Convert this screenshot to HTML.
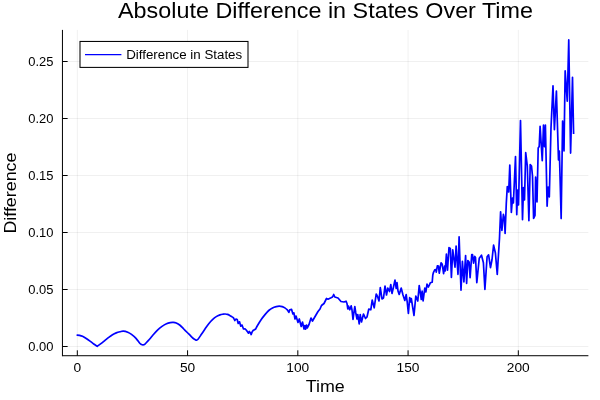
<!DOCTYPE html>
<html><head><meta charset="utf-8"><title>Absolute Difference in States Over Time</title>
<style>
html,body{margin:0;padding:0;background:#fff;width:600px;height:400px;overflow:hidden}
.t{font-family:"Liberation Sans",sans-serif;fill:#000}
svg{will-change:transform}
</style></head><body>
<svg width="600" height="400" viewBox="0 0 600 400" style="display:block;position:absolute;left:0;top:0">
<rect x="0" y="0" width="600" height="400" fill="#ffffff"/>
<line x1="77.32" y1="29.9" x2="77.32" y2="355.72" stroke="#000" stroke-opacity="0.1" stroke-width="0.6"/>
<line x1="187.57" y1="29.9" x2="187.57" y2="355.72" stroke="#000" stroke-opacity="0.1" stroke-width="0.6"/>
<line x1="297.82" y1="29.9" x2="297.82" y2="355.72" stroke="#000" stroke-opacity="0.1" stroke-width="0.6"/>
<line x1="408.07" y1="29.9" x2="408.07" y2="355.72" stroke="#000" stroke-opacity="0.1" stroke-width="0.6"/>
<line x1="518.32" y1="29.9" x2="518.32" y2="355.72" stroke="#000" stroke-opacity="0.1" stroke-width="0.6"/>
<line x1="62.45" y1="346.50" x2="588.4" y2="346.50" stroke="#000" stroke-opacity="0.1" stroke-width="0.6"/>
<line x1="62.45" y1="289.50" x2="588.4" y2="289.50" stroke="#000" stroke-opacity="0.1" stroke-width="0.6"/>
<line x1="62.45" y1="232.50" x2="588.4" y2="232.50" stroke="#000" stroke-opacity="0.1" stroke-width="0.6"/>
<line x1="62.45" y1="175.50" x2="588.4" y2="175.50" stroke="#000" stroke-opacity="0.1" stroke-width="0.6"/>
<line x1="62.45" y1="118.50" x2="588.4" y2="118.50" stroke="#000" stroke-opacity="0.1" stroke-width="0.6"/>
<line x1="62.45" y1="61.50" x2="588.4" y2="61.50" stroke="#000" stroke-opacity="0.1" stroke-width="0.6"/>
<line x1="62.45" y1="355.72" x2="588.4" y2="355.72" stroke="#000" stroke-width="1.0"/>
<line x1="62.45" y1="29.9" x2="62.45" y2="356.22" stroke="#000" stroke-width="1.0"/>
<line x1="77.32" y1="355.72" x2="77.32" y2="350.32000000000005" stroke="#000" stroke-width="1.0"/>
<text x="73.49" y="371.6" font-size="12.7" textLength="7.65" lengthAdjust="spacingAndGlyphs" class="t">0</text>
<line x1="187.57" y1="355.72" x2="187.57" y2="350.32000000000005" stroke="#000" stroke-width="1.0"/>
<text x="179.92" y="371.6" font-size="12.7" textLength="15.30" lengthAdjust="spacingAndGlyphs" class="t">50</text>
<line x1="297.82" y1="355.72" x2="297.82" y2="350.32000000000005" stroke="#000" stroke-width="1.0"/>
<text x="286.34" y="371.6" font-size="12.7" textLength="22.95" lengthAdjust="spacingAndGlyphs" class="t">100</text>
<line x1="408.07" y1="355.72" x2="408.07" y2="350.32000000000005" stroke="#000" stroke-width="1.0"/>
<text x="396.59" y="371.6" font-size="12.7" textLength="22.95" lengthAdjust="spacingAndGlyphs" class="t">150</text>
<line x1="518.32" y1="355.72" x2="518.32" y2="350.32000000000005" stroke="#000" stroke-width="1.0"/>
<text x="506.84" y="371.6" font-size="12.7" textLength="22.95" lengthAdjust="spacingAndGlyphs" class="t">200</text>
<line x1="62.45" y1="346.50" x2="67.65" y2="346.50" stroke="#000" stroke-width="1.0"/>
<text x="28.3" y="351.10" font-size="12.3" textLength="25.2" lengthAdjust="spacingAndGlyphs" class="t">0.00</text>
<line x1="62.45" y1="289.50" x2="67.65" y2="289.50" stroke="#000" stroke-width="1.0"/>
<text x="28.3" y="294.10" font-size="12.3" textLength="25.2" lengthAdjust="spacingAndGlyphs" class="t">0.05</text>
<line x1="62.45" y1="232.50" x2="67.65" y2="232.50" stroke="#000" stroke-width="1.0"/>
<text x="28.3" y="237.10" font-size="12.3" textLength="25.2" lengthAdjust="spacingAndGlyphs" class="t">0.10</text>
<line x1="62.45" y1="175.50" x2="67.65" y2="175.50" stroke="#000" stroke-width="1.0"/>
<text x="28.3" y="180.10" font-size="12.3" textLength="25.2" lengthAdjust="spacingAndGlyphs" class="t">0.15</text>
<line x1="62.45" y1="118.50" x2="67.65" y2="118.50" stroke="#000" stroke-width="1.0"/>
<text x="28.3" y="123.10" font-size="12.3" textLength="25.2" lengthAdjust="spacingAndGlyphs" class="t">0.20</text>
<line x1="62.45" y1="61.50" x2="67.65" y2="61.50" stroke="#000" stroke-width="1.0"/>
<text x="28.3" y="66.10" font-size="12.3" textLength="25.2" lengthAdjust="spacingAndGlyphs" class="t">0.25</text>
<path d="M76.60,335.10 C77.08,335.14 78.52,335.16 79.50,335.35 C80.48,335.54 81.38,335.73 82.50,336.25 C83.62,336.77 85.00,337.69 86.25,338.50 C87.50,339.31 88.75,340.18 90.00,341.10 C91.25,342.02 92.53,343.13 93.75,344.00 C94.97,344.87 96.71,345.92 97.30,346.30 C97.96,345.82 99.97,344.38 101.25,343.40 C102.53,342.42 103.75,341.40 105.00,340.40 C106.25,339.40 107.50,338.34 108.75,337.40 C110.00,336.46 111.25,335.50 112.50,334.75 C113.75,334.00 115.00,333.40 116.25,332.90 C117.50,332.40 118.83,332.05 120.00,331.75 C121.17,331.45 121.96,331.03 123.25,331.10 C124.54,331.18 126.38,331.65 127.75,332.20 C129.12,332.75 130.12,333.38 131.50,334.40 C132.88,335.42 134.62,336.82 136.00,338.30 C137.38,339.78 138.83,342.27 139.75,343.30 C140.67,344.33 140.96,344.25 141.50,344.50 C142.04,344.75 142.50,344.82 143.00,344.80 C143.50,344.78 144.00,344.70 144.50,344.40 C145.00,344.10 145.17,343.86 146.00,343.00 C146.83,342.14 148.33,340.58 149.50,339.25 C150.67,337.92 151.67,336.52 153.00,335.00 C154.33,333.48 156.00,331.53 157.50,330.10 C159.00,328.67 160.50,327.46 162.00,326.40 C163.50,325.34 165.12,324.38 166.50,323.75 C167.88,323.12 169.12,322.83 170.25,322.60 C171.38,322.38 172.25,322.33 173.25,322.40 C174.25,322.47 175.12,322.52 176.25,323.00 C177.38,323.48 178.75,324.25 180.00,325.25 C181.25,326.25 182.50,327.75 183.75,329.00 C185.00,330.25 186.46,331.72 187.50,332.75 C188.54,333.78 189.12,334.32 190.00,335.20 C190.88,336.07 191.92,337.28 192.75,338.00 C193.58,338.72 194.38,339.15 195.00,339.50 C195.62,339.85 196.00,340.15 196.50,340.10 C197.00,340.05 197.21,340.12 198.00,339.20 C198.79,338.28 200.08,336.30 201.25,334.60 C202.42,332.90 203.75,330.81 205.00,329.00 C206.25,327.19 207.50,325.32 208.75,323.75 C210.00,322.18 211.25,320.79 212.50,319.60 C213.75,318.41 215.00,317.38 216.25,316.60 C217.50,315.82 218.88,315.30 220.00,314.90 C221.12,314.50 222.12,314.35 223.00,314.20 C223.88,314.05 224.50,313.97 225.25,314.00 C226.00,314.03 226.75,314.15 227.50,314.40 C228.25,314.65 229.00,315.09 229.75,315.50 C230.50,315.91 231.38,316.47 232.00,316.85 C232.62,317.23 233.25,317.64 233.50,317.80 L234.80,320.50 L236.00,319.00 L237.20,319.50 L238.20,323.50 L239.50,321.80 L240.80,326.20 L242.00,325.00 L243.50,329.00 L245.00,328.80 L246.20,330.00 L247.50,331.80 L248.50,333.20 L249.30,331.50 L250.20,332.50 L251.20,334.50 L252.20,331.80 L253.50,330.00 L254.50,329.80 L255.60,329.00 C255.92,328.42 256.56,327.08 257.50,325.50 C258.44,323.92 260.00,321.32 261.25,319.50 C262.50,317.68 263.75,316.10 265.00,314.60 C266.25,313.10 267.50,311.62 268.75,310.50 C270.00,309.38 271.25,308.55 272.50,307.90 C273.75,307.25 275.12,306.89 276.25,306.60 C277.38,306.31 278.25,306.15 279.25,306.15 C280.25,306.15 281.25,306.28 282.25,306.60 C283.25,306.93 284.38,307.52 285.25,308.10 C286.12,308.68 287.12,309.77 287.50,310.10 L288.85,312.40 L289.75,309.75 L291.60,309.40 L292.90,313.90 L293.90,312.90 L295.00,319.00 L296.00,316.00 L298.00,322.50 L299.30,319.00 L301.20,326.50 L302.50,322.00 L304.00,329.00 L304.80,325.50 L305.50,329.20 L306.50,325.00 L307.20,328.00 L309.00,324.50 L311.00,318.00 L312.50,321.00 L314.50,317.50 L318.00,311.50 L320.00,309.00 L321.50,305.50 L324.00,303.50 L326.50,298.50 L328.00,299.20 L331.00,297.80 L332.50,297.00 L333.70,294.50 L334.80,297.00 L338.00,298.00 L341.00,301.50 L344.00,302.00 L346.00,301.20 L347.00,303.50 L347.80,309.00 L348.50,306.00 L349.80,309.80 L351.20,305.80 L352.00,310.00 L353.00,319.50 L354.00,312.00 L354.80,306.50 L355.80,313.00 L357.00,319.00 L357.80,314.50 L359.20,324.00 L360.20,314.50 L361.50,322.00 L363.50,314.00 L365.50,318.50 L367.00,317.00 L368.80,309.00 L370.80,309.80 L372.20,300.00 L374.20,307.80 L376.20,294.00 L377.50,296.50 L379.00,301.00 L380.30,287.50 L382.00,299.00 L383.50,298.00 L385.00,286.00 L386.50,295.00 L387.80,288.00 L389.50,291.50 L390.80,284.50 L392.00,293.50 L393.50,287.00 L395.00,280.00 L396.20,288.50 L397.00,282.50 L398.00,291.00 L399.20,294.50 L401.20,288.00 L403.00,295.00 L404.80,300.50 L406.20,294.50 L407.20,302.00 L408.40,313.50 L409.70,297.50 L410.50,302.00 L411.30,298.50 L412.50,306.00 L414.00,315.50 L415.80,296.00 L417.80,301.00 L419.20,285.50 L421.30,299.50 L422.10,291.00 L423.10,301.00 L424.80,288.00 L425.90,292.00 L427.00,284.00 L428.30,287.00 L429.30,285.20 L430.30,282.80 L432.20,282.20 L432.80,275.00 L433.50,272.30 L434.75,269.90 L435.90,269.50 L436.25,272.10 L437.40,265.75 L438.50,266.10 L439.25,273.25 L441.10,262.75 L442.25,264.25 L443.60,273.60 L444.65,266.10 L445.25,271.00 L446.40,254.10 L447.50,270.25 L449.00,247.60 L450.30,248.50 L451.40,277.40 L452.75,249.90 L455.00,267.25 L456.10,246.10 L458.00,274.40 L459.10,236.75 L461.00,290.10 L462.40,261.25 L463.90,281.90 L465.60,255.60 L466.60,283.40 L467.85,260.50 L469.10,262.00 L470.10,277.75 L471.75,254.50 L472.50,254.50 L473.60,263.10 L474.75,256.40 L475.50,257.50 L476.80,282.60 L479.25,258.25 L481.50,255.25 L483.40,262.75 L484.90,289.40 L487.10,256.75 L488.60,254.90 L490.50,267.60 L492.00,259.75 L493.60,245.10 L495.40,253.00 L497.25,274.40 L499.50,238.00 L500.60,211.75 L501.90,230.50 L503.40,214.40 L504.40,218.50 L505.10,233.50 L506.30,203.00 L507.30,186.50 L508.70,192.00 L509.80,165.00 L511.35,212.50 L512.50,198.00 L513.40,203.00 L515.50,156.50 L516.75,214.75 L517.60,190.00 L518.50,205.00 L520.50,120.50 L522.50,219.60 L523.50,187.50 L524.50,200.00 L525.70,152.50 L527.30,166.00 L528.90,220.75 L530.20,164.50 L531.50,166.00 L532.50,176.00 L533.60,218.50 L535.00,215.30 L535.60,177.00 L537.00,202.00 L538.20,148.00 L539.20,146.50 L540.10,126.25 L542.25,160.60 L543.50,125.10 L544.50,146.75 L545.40,125.10 L547.10,206.25 L548.10,187.00 L549.30,197.00 L551.00,127.75 L553.00,85.90 L554.40,129.60 L556.40,91.10 L558.50,160.00 L559.35,151.00 L561.15,218.60 L562.60,121.00 L564.00,151.00 L565.15,70.90 L567.25,101.25 L568.75,39.90 L570.60,153.10 L572.50,77.25 L573.60,134.00" fill="none" stroke="#0000ff" stroke-width="1.7" stroke-linejoin="round" stroke-linecap="butt"/>
<rect x="80.0" y="41.45" width="168.0" height="25.95" fill="#fff" stroke="#000" stroke-width="1.05"/>
<line x1="85" y1="54.6" x2="121.4" y2="54.6" stroke="#0000ff" stroke-width="1.45"/>
<text x="126.2" y="58.8" font-size="12.3" textLength="116" lengthAdjust="spacingAndGlyphs" class="t">Difference in States</text>
<text x="118" y="18.1" font-size="21.4" textLength="415" lengthAdjust="spacingAndGlyphs" class="t">Absolute Difference in States Over Time</text>
<text x="305.8" y="391.6" font-size="16" textLength="39" lengthAdjust="spacingAndGlyphs" class="t">Time</text>
<text transform="translate(16.2,233.6) rotate(-90)" font-size="16" textLength="81" lengthAdjust="spacingAndGlyphs" class="t">Difference</text>
</svg>
</body></html>
